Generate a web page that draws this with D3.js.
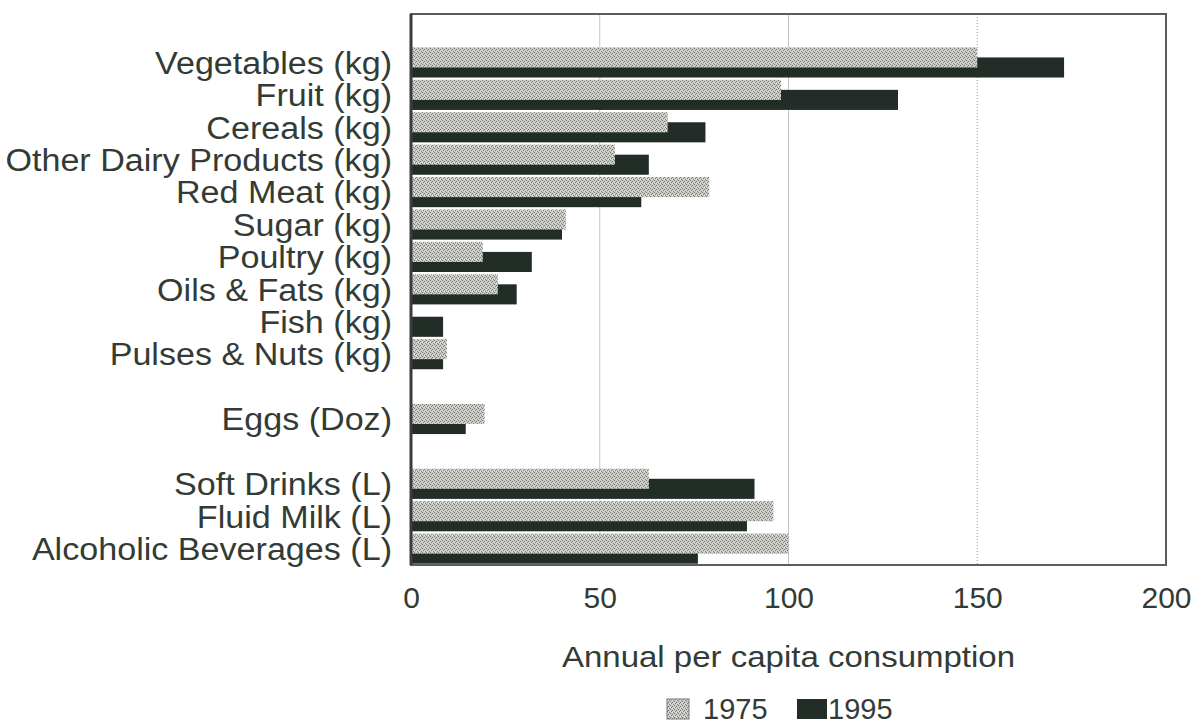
<!DOCTYPE html>
<html>
<head>
<meta charset="utf-8">
<script src="https://cdn.jsdelivr.net/npm/d3@7"></script>
<style>
  html, body { margin: 0; padding: 0; background: #ffffff; }
  svg text { font-family: "Liberation Sans", Arial, Helvetica, sans-serif; fill: #333b36; }
</style>
</head>
<body>
<svg id="chart" width="1196" height="725"></svg>
<script>
// Categories from top to bottom; blank entries leave empty rows between groups
const categories = [
  "",
  "Vegetables (kg)",
  "Fruit (kg)",
  "Cereals (kg)",
  "Other Dairy Products (kg)",
  "Red Meat (kg)",
  "Sugar (kg)",
  "Poultry (kg)",
  "Oils & Fats (kg)",
  "Fish (kg)",
  "Pulses & Nuts (kg)",
  " ",
  "Eggs (Doz)",
  "  ",
  "Soft Drinks (L)",
  "Fluid Milk (L)",
  "Alcoholic Beverages (L)"
];

// Annual per capita consumption
const values1975 = [null, 150, 98, 68, 54, 79, 41, 19, 23, null, 9.5, null, 19.5, null, 63, 96, 100];
const values1995 = [null, 173, 129, 78, 63, 61, 40, 32, 28, 8.5, 8.5, null, 14.5, null, 91, 89, 76];

const seriesNames = ["1975", "1995"];
const xTicks = [0, 50, 100, 150, 200];
const xTitle = "Annual per capita consumption";

const svg = d3.select("#chart");
const margin = { top: 14, right: 30, bottom: 160, left: 411 };
const width = 1196, height = 725;
const plotW = width - margin.left - margin.right;   // 755
const plotH = height - margin.top - margin.bottom;  // 551

const x = d3.scaleLinear().domain([0, 200]).range([0, plotW]);
const y = d3.scaleBand().domain(categories).range([0, plotH]).padding(0);

// Widen a text element horizontally (the type in this chart is set slightly extended)
function stretch(sel, factor) {
  sel.each(function () {
    const w = this.getComputedTextLength();
    if (w > 0) {
      d3.select(this)
        .attr("textLength", w * factor)
        .attr("lengthAdjust", "spacingAndGlyphs");
    }
  });
}

// Fill pattern for the 1975 bars: grey speckle
const defs = svg.append("defs");
const pat = defs.append("pattern")
  .attr("id", "speckle")
  .attr("patternUnits", "userSpaceOnUse")
  .attr("width", 4).attr("height", 4);
pat.append("rect").attr("width", 4).attr("height", 4).attr("fill", "#cbcbc6");
[[0, 0], [2, 1], [1, 3], [3, 2]].forEach(([px, py]) => {
  pat.append("rect").attr("x", px).attr("y", py).attr("width", 1).attr("height", 1).attr("fill", "#7a7c76");
});
[[1, 1], [3, 0]].forEach(([px, py]) => {
  pat.append("rect").attr("x", px).attr("y", py).attr("width", 1).attr("height", 1).attr("fill", "#e6e6e2");
});

const g = svg.append("g").attr("transform", `translate(${margin.left},${margin.top})`);

// Vertical gridlines
g.append("g").selectAll("line")
  .data([50, 100, 150])
  .join("line")
  .attr("x1", d => x(d)).attr("x2", d => x(d))
  .attr("y1", 0).attr("y2", plotH)
  .attr("stroke", d => d === 150 ? "#9a9a9a" : "#c4c4c4")
  .attr("stroke-width", 1)
  .attr("stroke-dasharray", d => d === 150 ? "1,2" : null);

// Bars: the 1995 bar sits lower and the 1975 bar overlaps its top
const bw = y.bandwidth();
const barH = bw * 0.62;
const rows = categories.map((c, i) => ({ c, v75: values1975[i], v95: values1995[i] }));

g.append("g").selectAll("rect")
  .data(rows.filter(d => d.v95 != null))
  .join("rect")
  .attr("x", x(0))
  .attr("y", d => y(d.c) + bw * 0.34)
  .attr("width", d => x(d.v95) - x(0))
  .attr("height", barH)
  .attr("fill", "#222d28");

g.append("g").selectAll("rect")
  .data(rows.filter(d => d.v75 != null))
  .join("rect")
  .attr("x", x(0))
  .attr("y", d => y(d.c) + bw * 0.03)
  .attr("width", d => x(d.v75) - x(0))
  .attr("height", barH)
  .attr("fill", "url(#speckle)");

// Plot frame
g.append("rect")
  .attr("x", 0).attr("y", 0)
  .attr("width", plotW).attr("height", plotH)
  .attr("fill", "none")
  .attr("stroke", "#5a5d5b")
  .attr("stroke-width", 2);
g.append("line")
  .attr("x1", 0).attr("x2", 0).attr("y1", 0).attr("y2", plotH)
  .attr("stroke", "#3a3d3b").attr("stroke-width", 3);

// Category axis
const yAxis = g.append("g")
  .call(d3.axisLeft(y).tickSize(0).tickPadding(19).tickFormat(d => d.trim()));
yAxis.select(".domain").remove();
yAxis.selectAll("text")
  .style("font-size", "31px")
  .attr("fill", "#333b36")
  .attr("dy", "0.36em")
  .call(stretch, 1.1);

// Value axis
const xAxis = g.append("g")
  .attr("transform", `translate(0,${plotH})`)
  .call(d3.axisBottom(x).tickValues(xTicks).tickSize(0).tickPadding(22));
xAxis.select(".domain").remove();
xAxis.selectAll("text")
  .style("font-size", "30px")
  .attr("fill", "#333b36")
  .attr("dy", "0.71em");

// Axis title
svg.append("text")
  .attr("x", margin.left + plotW / 2)
  .attr("y", 667)
  .attr("text-anchor", "middle")
  .style("font-size", "30px")
  .text(xTitle)
  .call(stretch, 1.1);

// Legend
const legend = svg.append("g").attr("transform", "translate(667,699)");
const legendItems = [
  { name: seriesNames[0], fill: "url(#speckle)", stroke: "#777", w: 22, x: 0, tx: 36 },
  { name: seriesNames[1], fill: "#222d28", stroke: "none", w: 30, x: 130, tx: 161 }
];
legendItems.forEach(it => {
  legend.append("rect")
    .attr("x", it.x).attr("y", 0)
    .attr("width", it.w).attr("height", 20)
    .attr("fill", it.fill)
    .attr("stroke", it.stroke);
  legend.append("text")
    .attr("x", it.tx).attr("y", 20)
    .style("font-size", "29px")
    .text(it.name);
});
</script>
</body>
</html>
